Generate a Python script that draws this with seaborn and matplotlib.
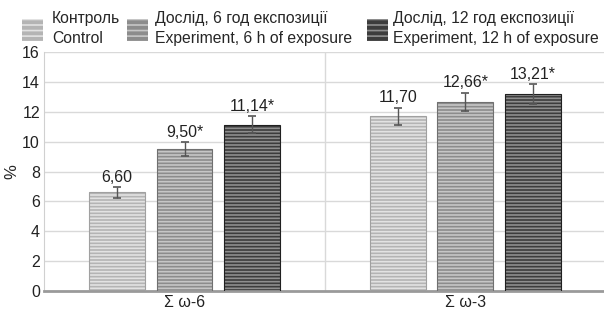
import pandas as pd
import matplotlib.pyplot as plt
import matplotlib.patches as mpatches
import seaborn as sns

categories = ["Σ ω-6", "Σ ω-3"]
groups = ["Контроль\nControl",
          "Дослід, 6 год експозиції\nExperiment, 6 h of exposure",
          "Дослід, 12 год експозиції\nExperiment, 12 h of exposure"]
control = [6.60, 11.70]
exp_6h = [9.50, 12.66]
exp_12h = [11.14, 13.21]
err_control = [0.35, 0.58]
err_6h = [0.48, 0.62]
err_12h = [0.55, 0.66]
labels_control = ["6,60", "11,70"]
labels_6h = ["9,50*", "12,66*"]
labels_12h = ["11,14*", "13,21*"]

base = ["#b4b4b4", "#8c8c8c", "#3c3c3c"]
stripe = ["#e2e2e2", "#c6c6c6", "#8e8e8e"]
border = ["#a0a0a0", "#707070", "#202020"]

df = pd.DataFrame({
    "cat": categories * 3,
    "grp": [groups[0]] * 2 + [groups[1]] * 2 + [groups[2]] * 2,
    "val": control + exp_6h + exp_12h,
})
errs = [err_control, err_6h, err_12h]
labs = [labels_control, labels_6h, labels_12h]

sns.set_style("white")
plt.rcParams["font.family"] = ["Liberation Sans", "DejaVu Sans"]
plt.rcParams["hatch.linewidth"] = 1.2

fig = plt.figure(figsize=(6.04, 3.13), dpi=100)
ax = fig.add_axes([0.073, 0.070, 0.93, 0.764])

sns.barplot(data=df, x="cat", y="val", hue="grp", palette=base, width=0.72, gap=0.17,
            ax=ax, legend=False, errorbar=None)

handles = []
bar_containers = list(ax.containers)
for i, cont in enumerate(bar_containers):
    for j, p in enumerate(cont.patches):
        p.set_edgecolor(stripe[i])
        p.set_linewidth(0)
        p.set_hatch("-----")
        ax.add_patch(mpatches.Rectangle(p.get_xy(), p.get_width(), p.get_height(),
                                        fill=False, edgecolor=border[i], lw=0.8, zorder=3))
        cx = p.get_x() + p.get_width() / 2
        top = p.get_height()
        ax.errorbar(cx, top, yerr=errs[i][j], color="#555555", capsize=3, lw=1, capthick=1.2, zorder=4)
        ax.text(cx, top + errs[i][j] + 0.15, labs[i][j], ha="center", va="bottom", fontsize=11.5, color="#222222")
    handles.append(mpatches.Patch(facecolor=base[i], edgecolor=stripe[i], hatch="---", lw=0))

ax.set_ylim(0, 16)
ax.set_yticks(range(0, 17, 2))
ax.set_xlim(-0.5, 1.5)
ax.yaxis.grid(True, color="#d9d9d9", lw=1)
ax.axvline(0.5, color="#d9d9d9", lw=1)
ax.set_axisbelow(True)
for s in ["top", "right"]:
    ax.spines[s].set_visible(False)
ax.spines["left"].set_color("#d0d0d0")
ax.spines["bottom"].set_color("#9a9a9a")
ax.spines["bottom"].set_linewidth(2)
ax.set_xlabel("")
ax.set_ylabel("%", fontsize=12, labelpad=2)
ax.tick_params(axis="both", labelsize=11.5, length=0, pad=3, colors="#222222")

# legend entries placed one by one to follow the reference spacing
leg_x = [22, 127, 367]
leg_pad = [0.55, 0.45, 0.3]
for k in range(3):
    leg = fig.legend([handles[k]], [groups[k]], loc="upper left",
                     bbox_to_anchor=(leg_x[k] / 604, 1 - 11 / 313), frameon=False,
                     fontsize=11.3, handlelength=1.35, handleheight=1.8, handletextpad=leg_pad[k],
                     borderaxespad=0, borderpad=0)
    for t in leg.get_texts():
        t.set_linespacing(1.45)

plt.savefig("out.png", dpi=100)
